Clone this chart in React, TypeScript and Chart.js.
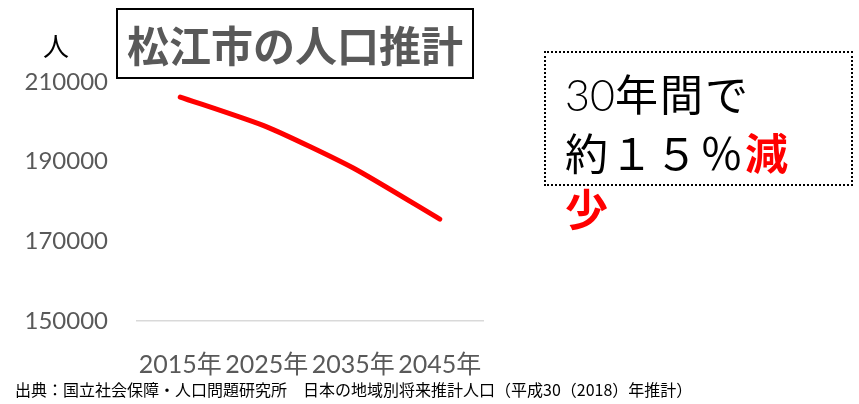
import React, { useEffect, useRef } from "react";
import { Chart, registerables } from "chart.js";

Chart.register(...registerables);

const categories = ["2015年", "2025年", "2035年", "2045年"];
const population = [206230, 198740, 188400, 175570];
const yMin = 150000;
const yMax = 210000;
const yStep = 20000;

const FONT = "Lato, 'Noto Sans CJK JP', sans-serif";
const CJK = "'Noto Sans CJK JP', Lato, sans-serif";

export default function App() {
  const ref = useRef<HTMLCanvasElement | null>(null);

  useEffect(() => {
    if (!ref.current) return;
    const chart = new Chart(ref.current, {
      type: "line",
      data: {
        labels: categories,
        datasets: [
          {
            data: population,
            borderColor: "#ff0000",
            borderWidth: 5,
            pointRadius: 0,
            tension: 0.2,
            borderCapStyle: "round",
            borderJoinStyle: "round",
            fill: false,
          },
        ],
      },
      options: {
        responsive: false,
        animation: false,
        layout: { padding: { left: 0, right: 376, top: 82, bottom: 0 } },
        plugins: { legend: { display: false }, tooltip: { enabled: false }, title: { display: false } },
        scales: {
          x: {
            offset: true,
            grid: { display: false },
            border: { display: true, color: "#d9d9d9", width: 1.5 },
            ticks: {
              autoSkip: false,
              maxRotation: 0,
              padding: 21,
              color: "#595959",
              font: { family: FONT, size: 25 },
            },
            afterFit: (s: any) => {
              s.height = 83;
            },
          },
          y: {
            min: yMin,
            max: yMax,
            grid: { display: false },
            border: { display: false },
            ticks: {
              stepSize: yStep,
              padding: 21,
              color: "#595959",
              font: { family: FONT, size: 24 },
              callback: (v: any) => String(v),
            },
            afterFit: (s: any) => {
              s.width = 137;
            },
          },
        },
      },
    });
    return () => chart.destroy();
  }, []);

  return (
    <div style={{ position: "absolute", left: 0, top: 0, width: 859, height: 404, background: "#fff", overflow: "hidden" }}>
      <canvas ref={ref} width={859} height={404} style={{ position: "absolute", left: 0, top: 0, width: 859, height: 404 }} />
      <div
        style={{
          position: "absolute",
          left: 43,
          top: 30,
          fontFamily: CJK,
          fontSize: 26,
          lineHeight: "30px",
          color: "#000",
        }}
      >
        人
      </div>
      <div
        style={{
          position: "absolute",
          left: 116,
          top: 8,
          width: 354,
          height: 67,
          border: "2px solid #000",
          boxSizing: "content-box",
          display: "flex",
          alignItems: "center",
          justifyContent: "center",
          fontFamily: CJK,
          fontWeight: 700,
          fontSize: 42,
          color: "#595959",
          whiteSpace: "nowrap",
        }}
      >
        松江市の人口推計
      </div>
      <div
        style={{
          position: "absolute",
          left: 544,
          top: 51,
          width: 305,
          height: 131,
          border: "2px dotted #000",
          boxSizing: "content-box",
        }}
      />
      <div
        style={{
          position: "absolute",
          left: 565,
          top: 64,
          fontFamily: CJK,
          fontSize: 43,
          lineHeight: "56px",
          color: "#000",
          whiteSpace: "nowrap",
          letterSpacing: 2,
        }}
      >
        <div>
          <span style={{ fontFamily: "Lato, sans-serif", fontWeight: 300, letterSpacing: 0 }}>30</span>年間で
        </div>
        <div>
          約１５％<span style={{ color: "#ff0000", fontWeight: 700 }}>減</span>
        </div>
        <div style={{ color: "#ff0000", fontWeight: 700 }}>少</div>
      </div>
      <div
        style={{
          position: "absolute",
          left: 15,
          top: 378,
          fontFamily: CJK,
          fontSize: 16,
          lineHeight: "22px",
          color: "#000",
          whiteSpace: "nowrap",
        }}
      >
        出典：国立社会保障・人口問題研究所　日本の地域別将来推計人口（平成30（2018）年推計）
      </div>
    </div>
  );
}
